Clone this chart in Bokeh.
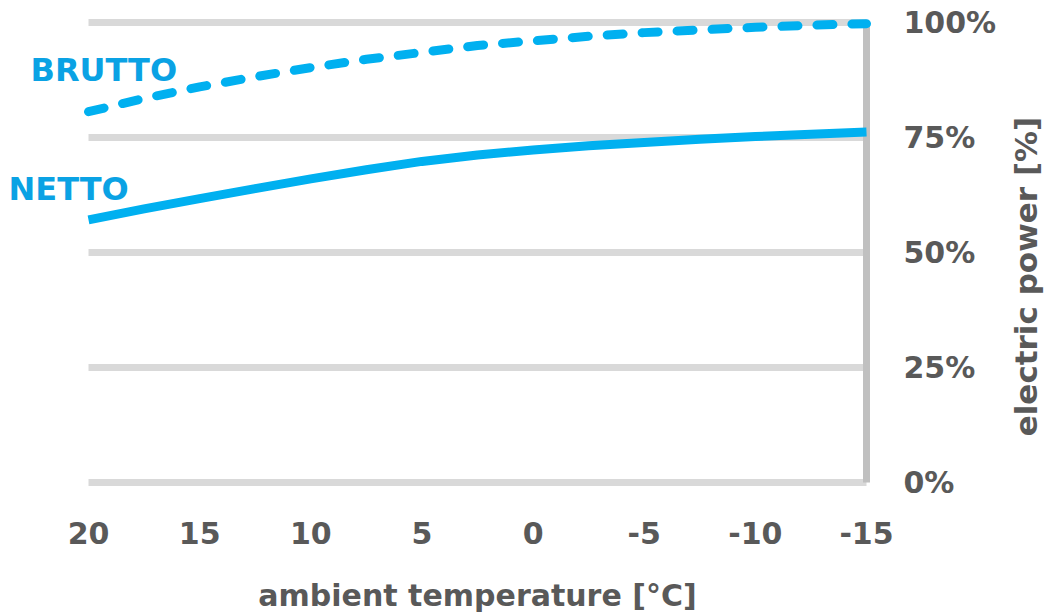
import math
from bokeh.plotting import figure
from bokeh.models import Range1d, Label, ColumnDataSource
from bokeh.core.properties import value
from bokeh.embed import file_html
from bokeh.resources import INLINE

# ---- data ----
temps = [20, 17.5, 15, 12.5, 10, 7.5, 5, 2.5, 0, -2.5, -5, -7.5, -10, -12.5, -15]
brutto = [80.6, 83.5, 86.0, 88.2, 90.2, 92.0, 93.5, 95.0, 96.0, 97.0, 97.8,
          98.4, 98.95, 99.4, 99.75]
netto = [57.1, 59.5, 61.7, 63.9, 66.0, 68.0, 69.8, 71.2, 72.3, 73.2, 73.9,
         74.6, 75.2, 75.7, 76.2]
x_ticks = [20, 15, 10, 5, 0, -5, -10, -15]
x_tick_labels = ["20", "15", "10", "5", "0", "-5", "-10", "-15"]
y_ticks = [0, 25, 50, 75, 100]
y_tick_labels = ["0%", "25%", "50%", "75%", "100%"]
series_names = ["BRUTTO", "NETTO"]
x_title = "ambient temperature [°C]"
y_title = "electric power [%]"

FONT = "DejaVu Sans"
GREY = "#595959"
BLUE = "#00b0f0"
LABEL_BLUE = "#0aa2e4"

# ---- layout (pixels) ----
W, H = 1046, 616
PX_LEFT, PX_RIGHT = 88, 866  # where first/last x tick sit
PY_TOP, PY_BOT = 22, 482     # where top/bottom y tick sit

xpp = (x_ticks[0] - x_ticks[-1]) / (PX_RIGHT - PX_LEFT)
x_start = x_ticks[0] + PX_LEFT * xpp
x_end = x_ticks[-1] - (W - PX_RIGHT) * xpp
ypp = (y_ticks[-1] - y_ticks[0]) / (PY_BOT - PY_TOP)
y_end = y_ticks[-1] + PY_TOP * ypp
y_start = y_ticks[0] - (H - PY_BOT) * ypp

p = figure(frame_width=W, frame_height=H,
           min_border=0, min_border_left=0, min_border_right=0,
           min_border_top=0, min_border_bottom=0,
           x_range=Range1d(x_start, x_end), y_range=Range1d(y_start, y_end),
           x_axis_location=None, y_axis_location=None,
           output_backend="svg", toolbar_location=None)
p.outline_line_color = None
p.background_fill_color = "white"
p.border_fill_color = "white"
p.grid.grid_line_color = None

# horizontal grid lines, spanning the x ticks
grid_src = ColumnDataSource(dict(
    x0=[x_ticks[0]] * len(y_ticks), x1=[x_ticks[-1]] * len(y_ticks),
    y=y_ticks))
p.segment(x0="x0", x1="x1", y0="y", y1="y", source=grid_src,
          line_color="#d9d9d9", line_width=7)

# right value axis line
p.segment(x0=[x_ticks[-1]], x1=[x_ticks[-1]], y0=[y_ticks[0]], y1=[y_ticks[-1]],
          line_color="#c0c0c0", line_width=7)

# value tick labels (right side)
lab_src = ColumnDataSource(dict(x=[x_ticks[-1]] * len(y_ticks), y=y_ticks,
                                text=y_tick_labels))
p.text(x="x", y="y", text="text", source=lab_src, x_offset=37,
       text_font=value(FONT), text_font_style="bold", text_font_size="30px",
       text_color=GREY, text_align="left", text_baseline="middle")

# temperature tick labels (below)
for t, lab in zip(x_ticks, x_tick_labels):
    p.add_layout(Label(x=t, y=y_ticks[0], y_offset=-50, text=lab,
                       text_font=FONT, text_font_style="bold",
                       text_font_size="30px", text_color=GREY,
                       text_align="center", text_baseline="middle"))

# temperature axis title
p.add_layout(Label(x=(x_ticks[0] + x_ticks[-1]) / 2, y=y_ticks[0], y_offset=-113,
                   text=x_title, text_font=FONT, text_font_style="bold",
                   text_font_size="30px", text_color=GREY,
                   text_align="center", text_baseline="middle"))

# lines
p.line(temps, brutto, line_color=BLUE, line_width=9, line_dash="16 19",
       line_cap="round", line_join="round")
p.line(temps, netto, line_color=BLUE, line_width=9, line_join="round")

# series labels
p.add_layout(Label(x=temps[0], y=brutto[0], x_offset=-58, y_offset=42,
                   text=series_names[0], text_font=FONT, text_font_style="bold",
                   text_font_size="32px", text_color=LABEL_BLUE,
                   text_align="left", text_baseline="middle"))
p.add_layout(Label(x=temps[0], y=netto[0], x_offset=-80, y_offset=31,
                   text=series_names[1], text_font=FONT, text_font_style="bold",
                   text_font_size="32px", text_color=LABEL_BLUE,
                   text_align="left", text_baseline="middle"))

# value axis title (reads bottom to top)
p.add_layout(Label(x=x_ticks[-1], y=(y_ticks[0] + y_ticks[-1]) / 2,
                   x_offset=159, y_offset=-24,
                   text=y_title, angle=math.pi / 2,
                   text_font=FONT, text_font_style="bold",
                   text_font_size="31px", text_color=GREY,
                   text_align="center", text_baseline="middle"))

open("out.html", "w").write(file_html(p, INLINE))
